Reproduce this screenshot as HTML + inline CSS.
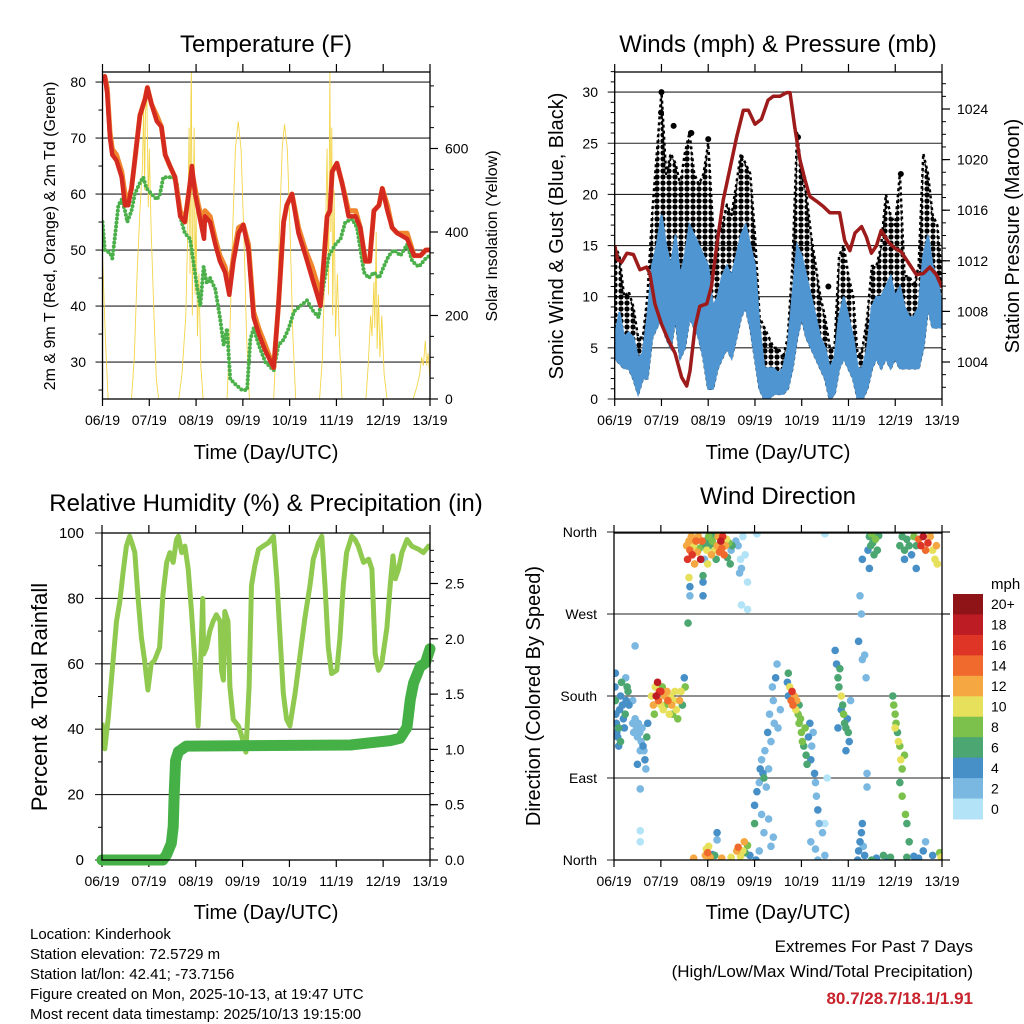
<!DOCTYPE html>
<html><head><meta charset="utf-8"><style>
html,body{margin:0;padding:0;background:#fff;}
svg{display:block;font-family:"Liberation Sans",sans-serif;}
</style></head><body>
<svg id="chart" width="1024" height="1024" viewBox="0 0 1024 1024" xmlns="http://www.w3.org/2000/svg">
<defs>
<pattern id="gustdots" width="6" height="6" patternUnits="userSpaceOnUse">
<circle cx="3" cy="3" r="2.6" fill="#000"/>
</pattern>
</defs>
<rect width="1024" height="1024" fill="#fff"/>
<text x="266" y="52" font-size="24" text-anchor="middle">Temperature (F)</text>
<text x="778" y="52" font-size="24" text-anchor="middle">Winds (mph) &amp; Pressure (mb)</text>
<text x="266" y="511" font-size="24" text-anchor="middle">Relative Humidity (%) &amp; Precipitation (in)</text>
<text x="778" y="504" font-size="24" text-anchor="middle">Wind Direction</text>
<text x="266" y="459" font-size="20" text-anchor="middle">Time (Day/UTC)</text>
<text x="778" y="459" font-size="20" text-anchor="middle">Time (Day/UTC)</text>
<text x="266" y="919" font-size="20" text-anchor="middle">Time (Day/UTC)</text>
<text x="778" y="919" font-size="20" text-anchor="middle">Time (Day/UTC)</text>
<text transform="translate(55,236) rotate(-90)" font-size="16" text-anchor="middle">2m &amp; 9m T (Red, Orange) &amp; 2m Td (Green)</text>
<text transform="translate(497,236) rotate(-90)" font-size="16" text-anchor="middle">Solar Insolation (Yellow)</text>
<text transform="translate(563,236) rotate(-90)" font-size="20" text-anchor="middle">Sonic Wind &amp; Gust (Blue, Black)</text>
<text transform="translate(1019,236) rotate(-90)" font-size="20" text-anchor="middle">Station Pressure (Maroon)</text>
<text transform="translate(47,697) rotate(-90)" font-size="22" text-anchor="middle">Percent &amp; Total Rainfall</text>
<text transform="translate(540,696) rotate(-90)" font-size="20" text-anchor="middle">Direction (Colored By Speed)</text>
<text x="991" y="589" font-size="15">mph</text>
<g font-size="15">
<text x="30" y="939">Location: Kinderhook</text>
<text x="30" y="959">Station elevation: 72.5729 m</text>
<text x="30" y="979">Station lat/lon: 42.41; -73.7156</text>
<text x="30" y="999">Figure created on Mon, 2025-10-13, at 19:47 UTC</text>
<text x="30" y="1019">Most recent data timestamp: 2025/10/13 19:15:00</text>
</g>
<g font-size="17" text-anchor="end">
<text x="973" y="952">Extremes For Past 7 Days</text>
<text x="973" y="977">(High/Low/Max Wind/Total Precipitation)</text>
<text x="973" y="1004" font-weight="bold" fill="#c8232c">80.7/28.7/18.1/1.91</text>
</g>
</svg>
<script>
const NS="http://www.w3.org/2000/svg";
const svg=document.getElementById('chart');
function mk(tag,attrs,parent){const e=document.createElementNS(NS,tag);for(const k in attrs)e.setAttribute(k,attrs[k]);(parent||svg).appendChild(e);return e;}

const dayLabels=["06/19","07/19","08/19","09/19","10/19","11/19","12/19","13/19"];
// Temperature panel data
const tempT=[0,.05,.10,.16,.21,.30,.41,.48,.55,.62,.69,.80,.91,.96,1.05,1.16,1.26,1.34,1.44,1.55,1.66,1.76,1.84,1.91,1.98,2.05,2.17,2.19,2.30,2.41,2.51,2.62,2.71,2.80,2.91,3.01,3.12,3.23,3.34,3.48,3.66,3.76,3.87,3.94,4.05,4.19,4.34,4.48,4.59,4.66,4.73,4.80,4.86,4.91,5.01,5.12,5.26,5.41,5.51,5.62,5.71,5.80,5.91,5.98,6.09,6.19,6.30,6.51,6.66,6.80,6.91,7.0];
const temp2m=[80,81,78,70,67,66,63,58,58,61,66,74,77,79,76,73,72,67,65,63,56,55,60,65,60,57,52,56,55,51,48,46,42,48,53,54.5,50,38,35,32,29,40,55,58,60,53,49,45,42,40,48,56,57,64,65.5,62,56,56,54,48,48,57,58,61,57,54,53,52,49,49,50,50];
const temp9m=[80,81,79,71,68,67,64,60,59,61,66,74,77,79,76,74,72,67,65,63,57,55,60,64,61,58,54,57,56,52,49,47,43,49,54,54.5,51,39,36,33,29,40,55,58,60,54,50,47,44,41,48,56,57,64,65.5,62,57,57,54,48,48,57,58,61,58,54,53,53,49,49,50,50];
const dewT=[0,.05,.16,.21,.26,.34,.41,.48,.53,.62,.69,.80,.87,.94,1.05,1.16,1.23,1.30,1.41,1.51,1.59,1.66,1.76,1.87,1.94,2.01,2.09,2.16,2.23,2.30,2.41,2.51,2.59,2.66,2.73,2.84,2.98,3.09,3.16,3.23,3.34,3.48,3.66,3.76,3.87,3.98,4.09,4.23,4.37,4.51,4.62,4.73,4.84,4.98,5.09,5.19,5.34,5.44,5.59,5.69,5.8,5.91,6.01,6.12,6.23,6.37,6.51,6.62,6.76,6.91,7.0];
const dewV=[55,50,49.5,48.5,52,58,59,57,55,57,60,62,63,61,60,59,60,63,63,63,62,56,53,52,48,44,40,47,44,45,43,38,33,36,27,26,25,25,34,36,33,30,28.5,33,34,36,39,40,41,39,38,44,49,51,52,55,55.5,54,46,45,46,45,47,49,50,49,51,48,47,48.5,49];
const solT=[0,.06,.12,.62,.68,.74,.80,.85,.88,.90,.92,.95,.98,1.0,1.04,1.1,1.15,1.2,1.63,1.7,1.78,1.82,1.85,1.87,1.89,1.90,1.92,1.94,1.96,1.98,2.0,2.03,2.06,2.1,2.15,2.66,2.72,2.78,2.84,2.9,2.96,3.02,3.08,3.14,3.66,3.72,3.78,3.84,3.89,3.95,4.01,4.07,4.13,4.64,4.7,4.76,4.8,4.83,4.86,4.88,4.9,4.92,4.95,4.98,5.02,5.06,5.12,5.63,5.68,5.73,5.76,5.8,5.82,5.85,5.87,5.9,5.93,5.97,6.02,6.08,6.64,6.72,6.78,6.82,6.86,6.9,6.93,6.96,7.0];
const solV=[350,150,0,0,100,300,450,550,700,500,690,720,460,600,400,200,50,0,0,60,200,400,650,300,720,790,200,500,650,250,450,150,300,80,0,0,150,400,600,665,600,400,150,0,0,150,400,600,658,600,400,150,0,0,100,350,600,250,783,400,650,200,500,150,300,150,0,0,80,200,150,280,170,400,120,250,100,200,60,0,0,30,60,100,80,140,80,110,50];
const tempTicks=[30,40,50,60,70,80];
const solarTicks=[0,200,400,600];
// Wind panel data (0.1 day steps)
const windHi=[6,8.5,6,6.5,6,4,4.5,8,13,15,18,15,13,16,12,14,17,16,15,14,13,9,10,12,13,12,14,16,17,15,13,7,3,3,3,2.5,3,5,10,15,14,12,10,8,6,5,3,4,8,10,8,6,3,3,5,9,10,10,11,12,10,11,9,8,8,9,14,16,13,12,9];
const windLo=[4,3.5,3,3,2,0.5,2,2,6,7,8,6,5,8,4,5,8,7,6,4,1,1,3,4,5,4,6,8,9,7,4,1,0,0,0.5,0.5,0.5,1,3,6,8,6,5,4,3,2,0,0.5,3,4,3,2,0,0,1,3,4,3,4,3,4,3,3,3,3,3,5,9,7,7,7];
const gustHi=[15,14,10,10.5,9,6,6,10,18,24,30,22,24,23,21,24,26,22,21,22,25,17,16,17,19,18,21,24,23,22,16,8,7,6,5,5,4,6,13,26,22,20,16,13,10,8,5,5,14,15,12,10,4,5,8,13,13,15,20,18,17,22,12,12,11,13,24,22,18,17,12];
const gustOutT=[1.0,0.99,1.26,1.63,1.64,2.0,4.57,6.12,3.92];
const gustOutV=[30,28,26.7,26,26,25.4,11,22,25.6];
const presT=[0,.06,.15,.26,.40,.54,.68,.75,.86,1.0,1.15,1.29,1.43,1.54,1.61,1.72,1.82,1.97,2.07,2.18,2.32,2.46,2.61,2.75,2.86,3.0,3.14,3.28,3.39,3.53,3.68,3.75,3.85,3.96,4.07,4.17,4.32,4.46,4.6,4.71,4.81,4.92,5.03,5.14,5.28,5.38,5.49,5.6,5.7,5.85,5.99,6.13,6.31,6.45,6.6,6.74,6.88,7.0];
const presV=[1013.2,1012.1,1011.9,1012.6,1012.5,1011.3,1011.5,1011,1008.6,1007,1005.7,1004.7,1002.8,1002.1,1003.3,1006.8,1008.4,1008.6,1010,1013.1,1016.8,1019.2,1021.8,1023.9,1023.9,1022.8,1023.2,1024.7,1025,1025,1025.3,1025.3,1022.6,1020,1018.4,1017.1,1016.7,1016.3,1015.8,1015.8,1015.8,1013.6,1012.8,1014.2,1014.7,1013.9,1012.6,1013.2,1014.4,1013.5,1013,1012.7,1011.7,1010.9,1011,1011.5,1010.9,1009.9];
const windTicks=[0,5,10,15,20,25,30];
const presTicks=[1004,1008,1012,1016,1020,1024];
// RH panel data
const rhT=[0,.06,.13,.2,.31,.38,.45,.52,.59,.66,.70,.77,.84,.91,.98,1.05,1.12,1.23,1.30,1.38,1.45,1.52,1.59,1.63,1.70,1.77,1.84,1.91,1.98,2.05,2.09,2.15,2.17,2.23,2.30,2.37,2.44,2.52,2.55,2.59,2.62,2.69,2.73,2.80,2.91,2.98,3.07,3.14,3.19,3.26,3.34,3.44,3.55,3.66,3.73,3.80,3.87,3.94,4.01,4.12,4.23,4.33,4.44,4.51,4.62,4.69,4.76,4.83,4.90,5.01,5.08,5.15,5.22,5.33,5.40,5.47,5.58,5.69,5.76,5.83,5.90,5.97,6.08,6.15,6.21,6.26,6.33,6.40,6.51,6.61,6.76,6.86,6.97,7.0];
const rhV=[42,34,43,55,73,79,88,96,99,96,94,80,68,61,52,60,61,65,81,91,94,91,98,99,94,96,89,76,61,41,53,80,63,65,70,73,75,73,58,55,76,73,53,43,41,38,33,53,84,90,95,96,97,99,86,68,51,43,41,51,63,74,84,92,97,99,84,65,57,58,68,84,94,99,98,96,91,92,89,63,58,60,71,84,93,86,89,94,98,96,95,94,96,95];
const rainT=[0,1.30,1.38,1.48,1.52,1.54,1.57,1.63,1.70,1.80,5.30,6.15,6.36,6.51,6.58,6.65,6.79,6.90,7.0];
const rainV=[0,0,0.05,0.15,0.3,0.6,0.9,0.98,1.0,1.03,1.04,1.08,1.1,1.2,1.45,1.6,1.75,1.78,1.91];
const rhTicks=[0,20,40,60,80,100];
const rainTicks=["0.0","0.5","1.0","1.5","2.0","2.5"];
// Wind direction data [day, degrees, mph]
const wdObs=[[0.02,190,5],[0.03,175,6],[0.04,160,4],[0.05,150,5],[0.06,140,4],[0.08,135,5],[0.1,145,6],[0.12,165,4],[0.14,180,5],[0.16,195,6],[0.18,170,4],[0.2,155,5],[0.22,145,4],[0.24,160,6],[0.26,175,5],[0.28,190,7],[0.3,185,6],[0.32,170,4],[0.03,205,4],[0.1,125,5],[0.14,130,6],[0.25,200,3],
[0.4,150,2],[0.42,140,3],[0.45,155,2],[0.48,145,2],[0.5,135,3],[0.52,150,2],[0.55,140,2],[0.58,130,3],[0.6,145,2],[0.62,125,4],[0.64,120,3],[0.66,110,4],[0.68,100,3],[0.7,135,6],[0.72,150,5],[0.56,120,2],[0.4,175,3],[0.45,235,3],[0.56,78,2],[0.56,32,1],[0.56,20,1],[0.5,105,4],
[0.8,180,10],[0.84,170,12],[0.88,190,11],[0.9,180,18],[0.93,195,19],[0.95,175,14],[0.97,185,16],[1.0,170,10],[1.03,190,9],[1.05,165,11],[1.08,180,13],[1.1,170,8],[1.13,185,12],[1.15,175,15],[1.18,160,11],[1.2,180,10],[1.23,170,12],[1.25,160,9],[1.28,175,10],[1.3,185,11],[1.33,165,10],[1.36,155,8],[1.4,175,12],[1.43,185,10],[1.46,170,6],[1.5,200,4],[1.52,190,9],[0.86,160,9],[1.0,185,17],
[1.55,345,13],[1.57,330,16],[1.6,350,12],[1.62,340,14],[1.65,355,12],[1.67,335,17],[1.7,345,10],[1.72,325,12],[1.75,350,15],[1.78,338,12],[1.8,355,13],[1.82,342,9],[1.85,330,18],[1.88,350,14],[1.9,345,6],[1.93,330,3],[1.95,350,7],[1.98,340,10],[2.0,325,10],[2.02,355,8],[2.05,345,7],[2.08,335,12],[2.1,350,9],[2.12,355,6],[2.15,340,11],[2.18,330,7],[2.2,345,13],[2.22,355,12],[2.25,338,14],[2.28,350,18],[2.3,342,14],[2.32,355,16],[2.35,335,15],[2.38,345,12],[2.4,352,10],[2.42,332,6],[2.45,348,8],[2.48,325,7],[2.5,340,3],[2.52,345,6],[1.6,310,10],[1.62,300,4],[1.62,290,2],[1.58,260,6],[1.9,305,4],[1.9,290,5],[1.9,312,6],[2.6,350,2],[2.65,345,2],[2.7,330,1],[2.72,320,2],[2.68,315,2],[2.75,355,1],[2.8,335,1],[2.85,305,1],[2.85,275,1],[2.72,280,1],[3.05,358,1],
[1.95,5,12],[1.97,12,10],[2.0,8,14],[2.02,15,11],[2.05,3,12],[2.1,6,4],[2.15,5,6],[2.3,2,12],[2.5,3,11],[2.62,10,12],[2.65,14,15],[2.7,4,11],[2.75,10,10],[2.78,20,13],[2.8,8,6],[2.85,16,8],[2.9,5,4],[1.7,2,12],[2.2,30,4],[2.2,22,3],
[3.0,40,7],[3.0,60,4],[3.05,75,4],[3.1,85,3],[3.12,100,4],[3.15,110,2],[3.18,95,5],[3.2,90,6],[3.22,120,3],[3.25,80,3],[3.28,140,4],[3.3,100,2],[3.32,160,2],[3.35,130,3],[3.38,190,2],[3.4,175,3],[3.42,150,2],[3.45,200,4],[3.48,215,2],[3.5,145,2],[3.55,165,3],[3.15,50,2],[3.2,30,2],[3.3,45,2],[3.35,15,2],[3.4,25,3],[3.1,10,2],[3.03,0,4],
[3.7,195,5],[3.72,205,7],[3.75,190,11],[3.78,175,14],[3.8,185,17],[3.82,170,15],[3.85,180,12],[3.88,165,10],[3.9,175,13],[3.93,160,8],[3.95,170,7],[3.98,155,9],[3.72,180,4],
[3.95,150,8],[4.0,140,8],[4.02,130,9],[4.05,125,7],[4.08,145,8],[4.1,115,6],[4.12,105,6],[4.15,135,5],[4.18,150,4],[4.2,110,5],[4.22,125,3],[4.25,140,2],[4.28,95,4],[4.3,85,3],[4.32,70,2],[4.35,55,4],[4.38,40,2],[4.2,20,3],[4.3,12,2],[4.35,0,2],[4.5,5,2],[4.45,30,2],[4.5,40,1],[4.55,90,1],[4.5,358,1],
[4.72,230,4],[4.75,215,5],[4.78,200,6],[4.8,190,7],[4.82,210,6],[4.85,180,10],[4.88,170,7],[4.9,160,8],[4.92,150,6],[4.95,145,7],[4.98,155,4],[5.0,140,6],[5.02,130,4],[5.05,175,3],[4.85,165,4],[4.78,145,4],[4.95,120,4],
[5.2,0,4],[5.22,10,4],[5.25,20,5],[5.28,30,4],[5.3,40,4],[5.32,15,3],[5.35,5,4],[5.22,240,4],[5.28,270,2],[5.25,290,2],[5.3,220,2],[5.35,225,2],[5.38,200,2],[5.4,95,2],[5.4,80,2],[5.3,330,4],
[5.42,340,4],[5.45,355,7],[5.48,345,6],[5.5,358,8],[5.52,348,6],[5.55,335,7],[5.58,352,8],[5.62,340,7],[5.65,356,6],[5.45,320,4],[5.5,0,6],[5.6,2,5],[5.75,5,6],[5.85,2,4],
[5.95,180,7],[5.97,170,8],[6.0,160,8],[6.02,150,9],[6.05,140,7],[6.07,130,10],[6.0,145,11],[6.1,125,8],[6.12,110,10],[6.15,100,9],[6.2,115,8],[6.1,85,7],[6.15,70,8],[6.22,50,9],[6.25,40,7],[6.3,20,6],
[6.1,345,6],[6.15,355,7],[6.2,340,6],[6.25,352,6],[6.3,345,7],[6.35,335,5],[6.4,355,8],[6.45,345,6],[6.5,352,15],[6.55,345,16],[6.6,355,18],[6.65,340,14],[6.7,348,16],[6.75,355,12],[6.8,340,11],[6.85,330,10],[6.9,325,10],[6.88,345,13],[6.2,330,4],[6.45,320,4],
[5.9,3,6],[6.4,4,4],[6.6,10,4],[6.65,20,3],[6.8,5,4],[6.95,8,9],[6.98,3,10],[6.5,2,5],[6.25,3,6]];
const dirTicks=[0,90,180,270,360];
const dirLabels=["North","East","South","West","North"];
const speedColors=["#b3e3f7","#7ab8e2","#468fc7","#4ba672","#7bc14b","#e6e05a","#f5a742","#ef6a2c","#de3527","#bd1c24","#8e1418"];
const speedLabels=["0","2","4","6","8","10","12","14","16","18","20+"];

// panels
const P1={x0:102.5,x1:430,y0:72,y1:399}, P2={x0:614.7,x1:942,y0:72,y1:399}, P3={x0:102,x1:430,y0:533,y1:860}, P4={x0:614,x1:942,y0:533,y1:860};
const xs=(P,t)=>P.x0+t*(P.x1-P.x0)/7;
const yT=v=>399-(v-23.4)*5.6, ySol=v=>399-v*0.4175;
const yW=v=>399-v*10.23, yP=v=>109+(1024-v)*12.65;
const yRH=v=>860-v*3.27, yRain=v=>860-v*110.6;
const yDir=v=>860-v*328/360;
const line=(xa,ya)=>xa.map((x,i)=>x.toFixed(1)+","+ya[i].toFixed(1)).join(" ");

function xAxis(P,name){
  const g=mk('g',{});
  
  
  dayLabels.forEach((lab,i)=>{
    const x=xs(P,i);
    mk('line',{x1:x,x2:x,y1:P.y1,y2:P.y1+7,stroke:"#000","stroke-width":1.2},g);
    mk('line',{x1:x,x2:x,y1:P.y0,y2:P.y0-8,stroke:"#000","stroke-width":1.2},g);
    const t=mk('text',{x:x,y:P.y1+26,"font-size":14,"text-anchor":"middle"},g);
    
    
    t.textContent=lab;
  });
}
function grid(P,vals,yf,name){
  const g=mk('g',{});
  
  
  vals.forEach(v=>mk('line',{x1:P.x0-7,x2:P.x1,y1:yf(v),y2:yf(v),stroke:"#222","stroke-width":1.1},g));
}
function leftLabels(P,vals,labs,yf,xr,name,fs){
  const g=mk('g',{});
  
  
  vals.forEach((v,i)=>{const t=mk('text',{x:xr,y:yf(v)+5,"font-size":fs||14,"text-anchor":"end"},g);t.textContent=labs[i];});
}
function rightAxis(P,vals,labs,yf,minor,name){
  const g=mk('g',{});
  
  
  minor.forEach(v=>mk('line',{x1:P.x1,x2:P.x1+4,y1:yf(v),y2:yf(v),stroke:"#000","stroke-width":1},g));
  vals.forEach((v,i)=>{mk('line',{x1:P.x1,x2:P.x1+8,y1:yf(v),y2:yf(v),stroke:"#000","stroke-width":1.2},g);
    const t=mk('text',{x:P.x1+15,y:yf(v)+5,"font-size":14},g);t.textContent=labs[i];});
}
function leftMinor(P,minor,yf){minor.forEach(v=>mk('line',{x1:P.x0-4,x2:P.x0,y1:yf(v),y2:yf(v),stroke:"#000","stroke-width":1}));}
function frame(P,name){const r=mk('rect',{x:P.x0,y:P.y0,width:P.x1-P.x0,height:P.y1-P.y0,fill:"none",stroke:"#000","stroke-width":1.3});
  }
function clip(P,id){const c=mk('clipPath',{id:id});mk('rect',{x:P.x0,y:P.y0,width:P.x1-P.x0,height:P.y1-P.y0},c);}
clip(P1,"c1");clip(P2,"c2");clip(P3,"c3");clip(P4,"c4");

// ===== Panel 1 =====
grid(P1,tempTicks,yT,'temp-gridlines');
leftMinor(P1,[25,35,45,55,65,75],yT);
leftLabels(P1,tempTicks,tempTicks.map(String),yT,86,'temp-y-tick-labels');
rightAxis(P1,solarTicks,solarTicks.map(String),ySol,[50,100,150,250,300,350,450,500,550,650,700,750],'solar-axis');
xAxis(P1,'temp-x-axis');
const g1=mk('g',{"clip-path":"url(#c1)"});
const sol=mk('polyline',{points:line(solT.map(t=>xs(P1,t)),solV.map(ySol)),fill:"none",stroke:"#f3d54a","stroke-width":0.9},g1);


const dew=mk('polyline',{points:line(dewT.map(t=>xs(P1,t)),dewV.map(yT)),fill:"none",stroke:"#4bb04a","stroke-width":4,"stroke-linecap":"round","stroke-dasharray":"0 4"},g1);


const t9=mk('polyline',{points:line(tempT.map(t=>xs(P1,t)),temp9m.map(yT)),fill:"none",stroke:"#f0862e","stroke-width":5,"stroke-linejoin":"round"},g1);


const t2=mk('polyline',{points:line(tempT.map(t=>xs(P1,t)),temp2m.map(yT)),fill:"none",stroke:"#d42a20","stroke-width":4.5,"stroke-linejoin":"round"},g1);


frame(P1,'temp-plot-frame');

// ===== Panel 2 =====
grid(P2,windTicks,yW,'wind-gridlines');
leftMinor(P2,[1,2,3,4,6,7,8,9,11,12,13,14,16,17,18,19,21,22,23,24,26,27,28,29,31,32],yW);
leftLabels(P2,windTicks,windTicks.map(String),yW,598,'wind-y-tick-labels');
const pm=[];for(let p=1002;p<=1026;p++)pm.push(p);
rightAxis(P2,presTicks,presTicks.map(String),yP,pm,'pressure-axis');
xAxis(P2,'wind-x-axis');
const g2=mk('g',{"clip-path":"url(#c2)"});
const wT=windHi.map((_,i)=>i*0.1);
const gustPts=wT.map((t,i)=>xs(P2,t).toFixed(1)+","+yW(gustHi[i]).toFixed(1)).concat(wT.slice().reverse().map((t,j)=>{const i=wT.length-1-j;return xs(P2,t).toFixed(1)+","+yW(windLo[i]).toFixed(1);}));
const gust=mk('polygon',{points:gustPts.join(" "),fill:"url(#gustdots)",stroke:"#000","stroke-width":2.5,"stroke-dasharray":"3 3","stroke-linejoin":"round"},g2);


gustOutT.forEach((t,i)=>{const c=mk('circle',{cx:xs(P2,t),cy:yW(gustOutV[i]),r:3,fill:"#000"},g2);
  
  });
const windPts=wT.map((t,i)=>xs(P2,t).toFixed(1)+","+yW(windHi[i]).toFixed(1)).concat(wT.slice().reverse().map((t,j)=>{const i=wT.length-1-j;return xs(P2,t).toFixed(1)+","+yW(windLo[i]).toFixed(1);}));
const wind=mk('polygon',{points:windPts.join(" "),fill:"#4e95d1",stroke:"#4e95d1","stroke-width":2},g2);


const pres=mk('polyline',{points:line(presT.map(t=>xs(P2,t)),presV.map(yP)),fill:"none",stroke:"#9e1b1b","stroke-width":3.5,"stroke-linejoin":"round"},g2);


frame(P2,'wind-plot-frame');

// ===== Panel 3 =====
grid(P3,rhTicks,yRH,'rh-gridlines');
leftMinor(P3,[10,30,50,70,90],yRH);
leftLabels(P3,rhTicks,rhTicks.map(String),yRH,84,'rh-y-tick-labels',15);
const rm=[];for(let r=0;r<=2.9;r+=0.1)rm.push(r);
rightAxis(P3,rainTicks.map(Number),rainTicks,yRain,rm,'rain-axis');
xAxis(P3,'rh-x-axis');
const g3=mk('g',{"clip-path":"url(#c3)"});
const rh=mk('polyline',{points:line(rhT.map(t=>xs(P3,t)),rhV.map(yRH)),fill:"none",stroke:"#8fc94f","stroke-width":5,"stroke-linejoin":"round"},g3);


const rain=mk('polyline',{points:line(rainT.map(t=>xs(P3,t)),rainV.map(yRain)),fill:"none",stroke:"#45b046","stroke-width":11,"stroke-linejoin":"round","stroke-linecap":"round"});


frame(P3,'rh-plot-frame');

// ===== Panel 4 =====
grid(P4,dirTicks,yDir,'direction-gridlines');
dirTicks.forEach(v=>mk('line',{x1:P4.x1,x2:P4.x1+8,y1:yDir(v),y2:yDir(v),stroke:"#000","stroke-width":1.1}));
leftLabels(P4,dirTicks,dirLabels,yDir,597,'direction-y-tick-labels');
xAxis(P4,'dir-x-axis');
const g4=mk('g',{"clip-path":"url(#c4)"});


wdObs.slice().sort((a,b)=>a[2]-b[2]).forEach(o=>{
  const bin=Math.max(0,Math.min(10,Math.floor(o[2]/2)));
  const c=mk('circle',{cx:xs(P4,o[0]),cy:yDir(o[1]),r:3.8,fill:speedColors[bin]},g4);
  
  
});
frame(P4,'direction-plot-frame');
// colorbar
const cb=mk('g',{});


const cbTop=594,cbH=225/11;
speedColors.slice().reverse().forEach((col,i)=>{
  mk('rect',{x:953,y:cbTop+i*cbH,width:30,height:cbH+0.5,fill:col},cb);
  const t=mk('text',{x:991,y:cbTop+i*cbH+cbH/2+5,"font-size":14},cb);
  t.textContent=speedLabels[10-i];
});
</script>
</body></html>
